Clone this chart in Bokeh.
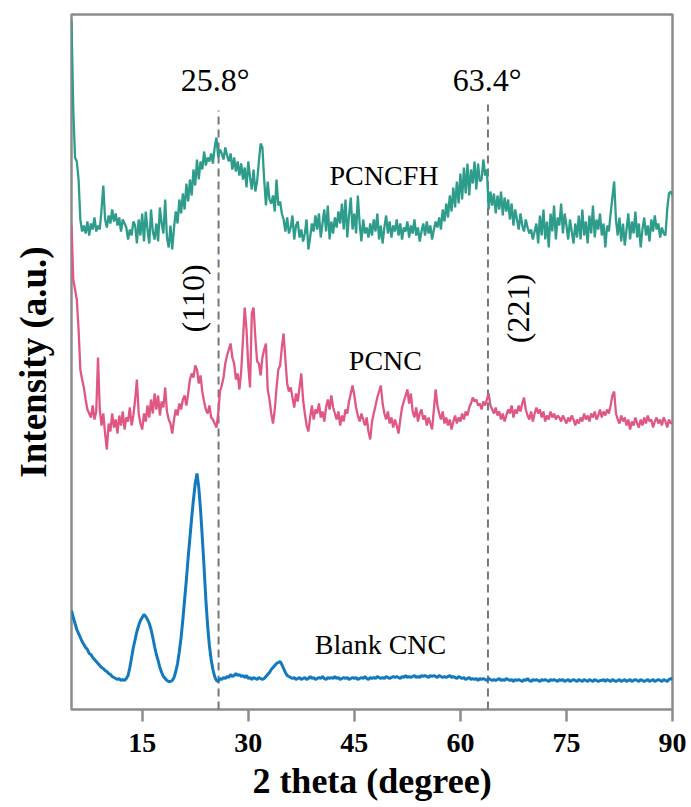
import math
from bokeh.plotting import figure
from bokeh.models import Range1d, FixedTicker, ColumnDataSource
from bokeh.core.properties import value
from bokeh.embed import file_html
from bokeh.resources import INLINE

# ---------------- data (2 theta grid: 5 .. 90 step 0.25) ----------------
theta_start = 5.0
theta_step = 0.25

pcncfh = [
    689, 600, 552, 548,  530, 490, 478, 484,  476, 488, 474, 486,  480, 492, 478, 484,
    480, 500, 524, 490,  482, 494, 486, 500,  488, 496, 484, 492,  478, 490, 486, 482,
    470, 480, 474, 488,  484, 466, 490, 474,  496, 468, 498, 480,  466, 500, 478, 470,
    486, 468, 502, 486,  476, 510, 472, 462,  484, 460, 482, 498,  486, 510, 496, 516,
    500, 526, 508, 530,  514, 540, 524, 550,  530, 548, 540, 558,  544, 552, 548, 556,
    546, 562, 572, 552,  560, 556, 550, 562,  554, 548, 556, 540,  552, 538, 548, 534,
    546, 530, 542, 522,  548, 532, 520, 540,  518, 528, 548, 566,  562, 530, 504, 528,
    510, 506, 514, 498,  530, 504, 508, 496,  490, 478, 492, 476,  482, 494, 470, 484,
    488, 472, 480, 468,  476, 490, 460, 472,  486, 478, 494, 480,  496, 472, 486, 500,
    478, 504, 470, 488,  476, 492, 482, 498,  486, 506, 480, 510,  472, 494, 512, 480,
    496, 476, 514, 486,  468, 490, 476, 482,  472, 486, 474, 490,  478, 496, 470, 484,
    466, 482, 494, 476,  488, 472, 484, 478,  490, 474, 486, 470,  482, 478, 488, 472,
    484, 476, 490, 474,  482, 468, 478, 486,  474, 488, 476, 484,  470, 480, 488, 482,
    492, 480, 500, 488,  506, 492, 514, 498,  522, 502, 528, 506,  536, 510, 542, 516,
    546, 514, 540, 526,  548, 520, 546, 528,  530, 550, 534, 540,  500, 518, 504, 516,
    496, 514, 500, 518,  494, 512, 498, 510,  490, 506, 484, 500,  490, 480, 496, 484,
    478, 490, 482, 476,  480, 470, 478, 486,  466, 494, 474, 500,  470, 488, 462, 496,
    478, 504, 470, 492,  484, 506, 476, 496,  484, 470, 490, 478,  466, 486, 472, 494,
    470, 500, 474, 488,  466, 494, 476, 504,  472, 490, 480, 496,  474, 486, 462, 484,
    478, 496, 512, 528,  490, 474, 492, 468,  486, 464, 480, 496,  470, 488, 476, 498,
    472, 486, 462, 480,  492, 474, 484, 468,  490, 478, 494, 480,  486, 472, 482, 476,
    474, 500, 516, 518,  514,
]

pcnc = [
    484, 430, 420, 410,  380, 340, 330, 322,  310, 300, 296, 292,  304, 290, 298, 352,
    300, 284, 296, 276,  260, 286, 278, 296,  282, 290, 276, 294,  284, 298, 280, 292,
    288, 302, 284, 294,  310, 330, 296, 286,  280, 296, 288, 304,  292, 310, 296, 316,
    300, 314, 294, 308,  302, 322, 298, 290,  286, 276, 290, 300,  294, 306, 300, 310,
    314, 304, 316, 330,  336, 332, 344, 340,  326, 334, 318, 308,  300, 296, 304, 292,
    290, 286, 282, 296,  318, 324, 332, 346,  354, 360, 366, 352,  346, 330, 336, 320,
    338, 370, 402, 380,  344, 322, 396, 402,  372, 348, 346, 334,  352, 360, 366, 320,
    310, 296, 286, 300,  322, 340, 344, 362,  376, 350, 326, 318,  322, 312, 302, 316,
    308, 322, 336, 310,  296, 284, 278, 292,  304, 290, 300, 296,  306, 292, 298, 288,
    302, 310, 300, 314,  302, 296, 290, 298,  284, 294, 288, 300,  296, 308, 316, 324,
    314, 302, 294, 288,  296, 290, 284, 292,  278, 270, 288, 296,  304, 312, 318, 324,
    306, 296, 290, 298,  286, 292, 282, 290,  284, 276, 290, 302,  308, 314, 320, 306,
    316, 298, 292, 302,  288, 296, 300, 290,  294, 284, 292, 286,  280, 300, 320, 304,
    296, 290, 298, 286,  292, 284, 290, 280,  288, 294, 286, 292,  288, 296, 290, 298,
    294, 302, 306, 312,  308, 310, 304, 306,  300, 308, 304, 310,  316, 304, 300, 296,
    302, 294, 298, 290,  296, 288, 294, 300,  296, 304, 292, 300,  296, 304, 298, 306,
    312, 300, 294, 290,  298, 288, 296, 302,  296, 300, 292, 298,  288, 294, 290, 298,
    292, 296, 290, 294,  292, 288, 294, 290,  286, 292, 288, 294,  290, 284, 290, 286,
    292, 288, 296, 290,  294, 288, 296, 292,  298, 290, 294, 300,  292, 298, 294, 300,
    296, 304, 314, 318,  296, 290, 286, 294,  288, 292, 284, 290,  280, 288, 284, 292,
    286, 282, 290, 284,  292, 286, 294, 288,  290, 282, 288, 292,  286, 290, 284, 292,
    288, 282, 290, 286,  288,
]

blank_cnc = [
    99, 92, 86, 80,  76, 72, 68, 65,  62, 60, 56, 55,  52, 50, 48, 46,
    44, 42, 41, 39,  38, 36, 35, 33,  32, 31, 30, 31,  29, 30, 29, 31,
    34, 42, 52, 62,  70, 78, 84, 89,  92, 95, 93, 90,  86, 80, 72, 63,
    55, 49, 42, 37,  33, 31, 29, 28,  28, 29, 32, 38,  46, 58, 72, 90,
    110, 130, 152, 172,  192, 210, 226, 236,  222, 200, 172, 142,  110, 84, 64, 50,
    40, 33, 29, 28,  31, 30, 32, 31,  33, 32, 35, 33,  34, 36, 34, 35,
    33, 34, 32, 34,  31, 32, 30, 32,  31, 30, 32, 31,  30, 31, 33, 35,
    37, 40, 42, 44,  46, 47, 48, 45,  41, 37, 34, 33,  32, 31, 32, 30,
    31, 32, 30, 31,  32, 30, 31, 33,  31, 32, 30, 31,  32, 31, 33, 31,
    30, 32, 31, 32,  31, 33, 31, 32,  30, 31, 32, 31,  32, 30, 31, 32,
    31, 32, 30, 31,  32, 31, 33, 31,  30, 32, 31, 32,  31, 33, 32, 31,
    32, 31, 33, 32,  31, 32, 33, 32,  33, 32, 31, 33,  32, 34, 32, 33,
    32, 33, 34, 32,  33, 32, 34, 33,  34, 33, 32, 34,  33, 34, 33, 32,
    34, 33, 32, 33,  32, 33, 34, 32,  33, 32, 31, 33,  32, 31, 32, 30,
    31, 32, 30, 31,  30, 31, 29, 31,  30, 31, 30, 29,  31, 30, 29, 30,
    29, 30, 31, 29,  30, 29, 31, 30,  29, 30, 28, 30,  29, 30, 29, 28,
    30, 29, 31, 29,  28, 30, 29, 30,  29, 28, 30, 29,  30, 29, 28, 30,
    29, 30, 29, 28,  30, 29, 30, 28,  29, 30, 28, 29,  30, 29, 28, 30,
    29, 28, 30, 29,  28, 30, 29, 28,  30, 29, 28, 29,  29, 30, 28, 30,
    29, 28, 30, 29,  28, 29, 30, 28,  29, 30, 28, 29,  30, 28, 29, 30,
    29, 28, 30, 29,  28, 29, 30, 28,  29, 30, 28, 29,  30, 29, 28, 30,
    29, 28, 30, 31,  30,
]

two_theta = [theta_start + theta_step * i for i in range(len(blank_cnc))]

x_ticks = [15, 30, 45, 60, 75, 90]

# reference lines (position) and their labels
ref_line_x = [25.8, 63.9]
ref_line_top = [599, 605]
ref_line_labels = ["25.8°", "63.4°"]
ref_label_x = [25.3, 63.8]
ref_label_y = [630, 630]

hkl_labels = ["(110)", "(221)"]
hkl_x = [22.2, 68.2]
hkl_y = [411, 401]

sample_names = ["PCNCFH", "PCNC", "Blank CNC"]
sample_x = [49.2, 49.4, 48.7]
sample_y = [534, 349, 65]

colors = {"PCNCFH": "#2E9C8A", "PCNC": "#DF5782", "Blank CNC": "#1279BE"}

# ---------------- figure ----------------
p = figure(width=691, height=807, output_backend="svg", toolbar_location=None,
           x_range=Range1d(5, 90), y_range=Range1d(0, 695),
           min_border_left=71, min_border_right=19, min_border_top=14,
           min_border_bottom=98)
p.grid.visible = False
p.outline_line_color = "#8C8C8C"
p.outline_line_width = 2.5
p.background_fill_color = "white"
p.border_fill_color = "white"

serif = "Liberation Serif"

xa = p.xaxis[0]
xa.ticker = FixedTicker(ticks=x_ticks)
xa.major_tick_out = 12
xa.major_tick_in = 0
xa.minor_tick_out = 0
xa.minor_tick_in = 0
xa.major_tick_line_color = "#8C8C8C"
xa.major_tick_line_width = 2.5
xa.axis_line_color = None
xa.major_label_text_font = serif
xa.major_label_text_font_style = "bold"
xa.major_label_text_font_size = "28px"
xa.major_label_text_color = "black"
xa.major_label_standoff = 12
xa.axis_label = "2 theta (degree)"
xa.axis_label_text_font = serif
xa.axis_label_text_font_style = "bold"
xa.axis_label_text_font_size = "36px"
xa.axis_label_text_color = "black"
xa.axis_label_standoff = 6

ya = p.yaxis[0]
ya.ticker = FixedTicker(ticks=[])
ya.major_tick_out = 0
ya.major_tick_in = 0
ya.minor_tick_out = 0
ya.minor_tick_in = 0
ya.axis_line_color = None
ya.axis_label = "Intensity (a.u.)"
ya.axis_label_text_font = serif
ya.axis_label_text_font_style = "bold"
ya.axis_label_text_font_size = "37px"
ya.axis_label_text_color = "black"
ya.axis_label_standoff = 18

# dashed reference lines
p.segment(x0=ref_line_x, y0=[0, 0], x1=ref_line_x, y1=ref_line_top,
          line_color="#777777", line_width=2, line_dash="8 5")

# curves
p.line(two_theta, pcncfh, line_color=colors["PCNCFH"], line_width=2.3)
p.line(two_theta, pcnc, line_color=colors["PCNC"], line_width=2.3)
p.line(two_theta, blank_cnc, line_color=colors["Blank CNC"], line_width=3)

# annotations
p.text(x=ref_label_x, y=ref_label_y, text=ref_line_labels,
       text_font=value(serif), text_font_size="32px", text_color="black",
       text_align="center", text_baseline="middle")
p.text(x=hkl_x, y=hkl_y, text=hkl_labels, angle=math.pi / 2,
       text_font=value(serif), text_font_size="32px", text_color="black",
       text_align="center", text_baseline="middle")
p.text(x=sample_x, y=sample_y, text=sample_names,
       text_font=value(serif), text_font_size="28px", text_color="black",
       text_align="center", text_baseline="middle")

open("out.html", "w").write(file_html(p, INLINE))
